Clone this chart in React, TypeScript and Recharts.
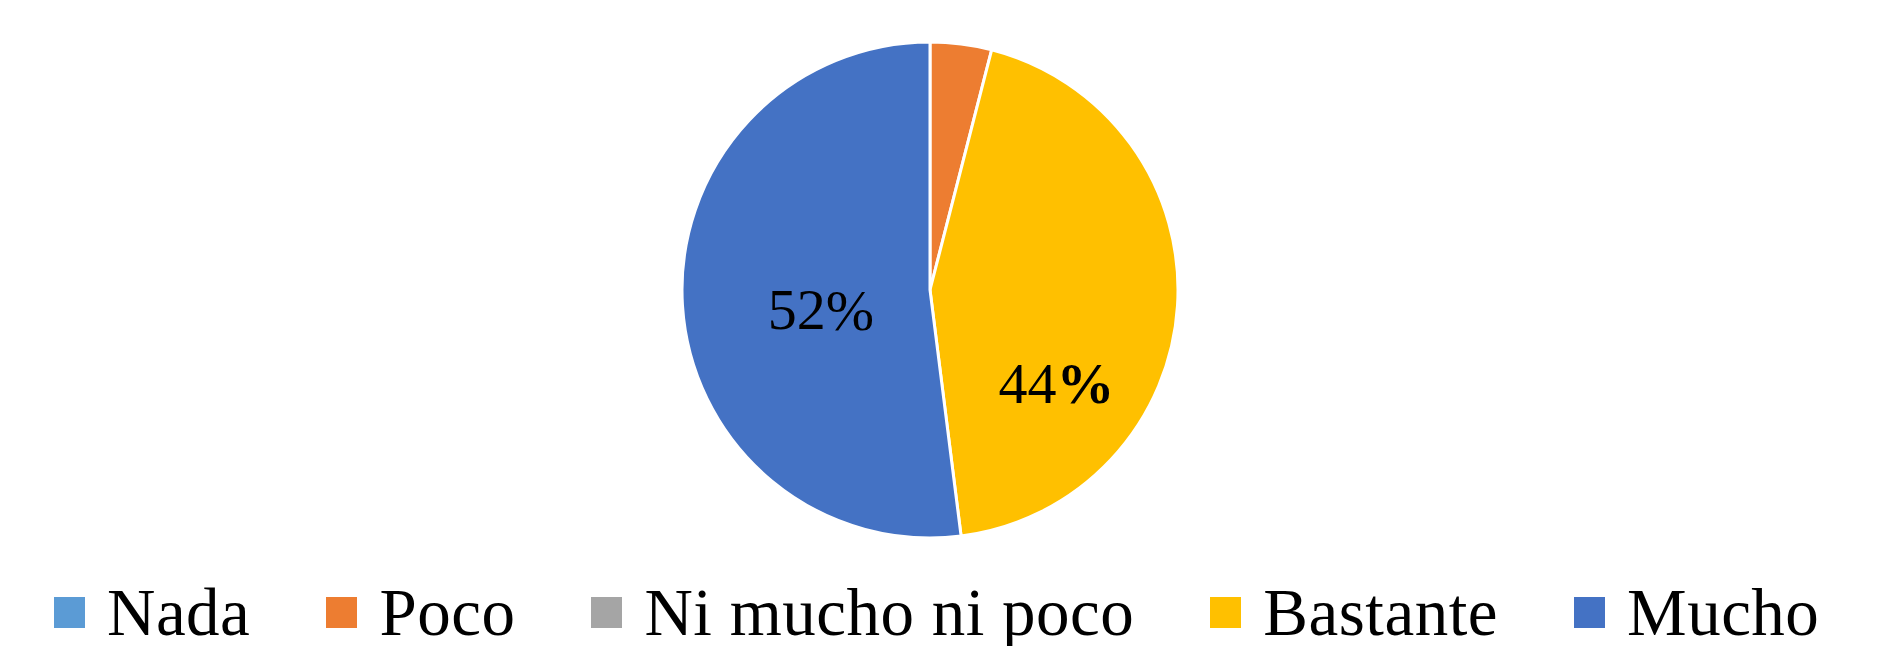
import { PieChart, Pie, Cell, Legend } from 'recharts';

const categories = ['Nada', 'Poco', 'Ni mucho ni poco', 'Bastante', 'Mucho'];
const percentages = [0, 4, 0, 44, 52];
const colors = ['#5B9BD5', '#ED7D31', '#A5A5A5', '#FFC000', '#4472C4'];

// label offset from the centre, as a fraction of the radius (Excel "best fit")
const labelSpots = {
  Bastante: { fx: 0.51, fy: 0.375, boldPct: true },
  Mucho: { fx: -0.44, fy: 0.08, boldPct: false },
};

const data = categories.map((name, i) => ({ name, value: percentages[i] }));

const FONT = '"Liberation Serif", "Times New Roman", serif';

function renderLabel(props) {
  const { cx, cy, outerRadius, name, value } = props;
  const spot = labelSpots[name];
  if (!spot) return null;
  const x = cx + spot.fx * outerRadius;
  const y = cy + spot.fy * outerRadius;
  return (
    <text
      x={x}
      y={y}
      textAnchor="middle"
      dominantBaseline="central"
      fill="#000"
      fontFamily={FONT}
      fontSize={58}
    >
      {value}
      <tspan fontWeight={spot.boldPct ? 'bold' : 'normal'}>%</tspan>
    </text>
  );
}

// keep the series order (recharts sorts the payload)
function LegendBox() {
  return (
    <div
      style={{
        display: 'flex',
        alignItems: 'center',
        fontFamily: FONT,
        fontSize: 67,
        letterSpacing: 0.5,
        color: '#000',
        paddingLeft: 54,
        whiteSpace: 'nowrap',
      }}
    >
      {categories.map((name, i) => (
        <div key={name} style={{ display: 'flex', alignItems: 'center', marginRight: 76 }}>
          <span
            style={{
              display: 'inline-block',
              width: 31,
              height: 31,
              background: colors[i],
              marginRight: 22,
            }}
          />
          <span style={{ lineHeight: 1 }}>{name}</span>
        </div>
      ))}
    </div>
  );
}

export default function App() {
  return (
    <div style={{ position: 'absolute', left: 0, top: 0, background: '#fff' }}>
      <PieChart width={1887} height={646} margin={{ top: 0, right: 0, bottom: 0, left: 0 }}>
        <Pie
          data={data}
          dataKey="value"
          nameKey="name"
          cx={930}
          cy={290}
          outerRadius={248}
          startAngle={90}
          endAngle={-270}
          stroke="#fff"
          strokeWidth={3}
          label={renderLabel}
          labelLine={false}
          isAnimationActive={false}
        >
          {data.map((d, i) => (
            <Cell key={d.name} fill={colors[i]} />
          ))}
        </Pie>
        <Legend
          verticalAlign="bottom"
          align="left"
          content={LegendBox}
          wrapperStyle={{ left: 0, bottom: 0, width: 1887 }}
        />
      </PieChart>
    </div>
  );
}
